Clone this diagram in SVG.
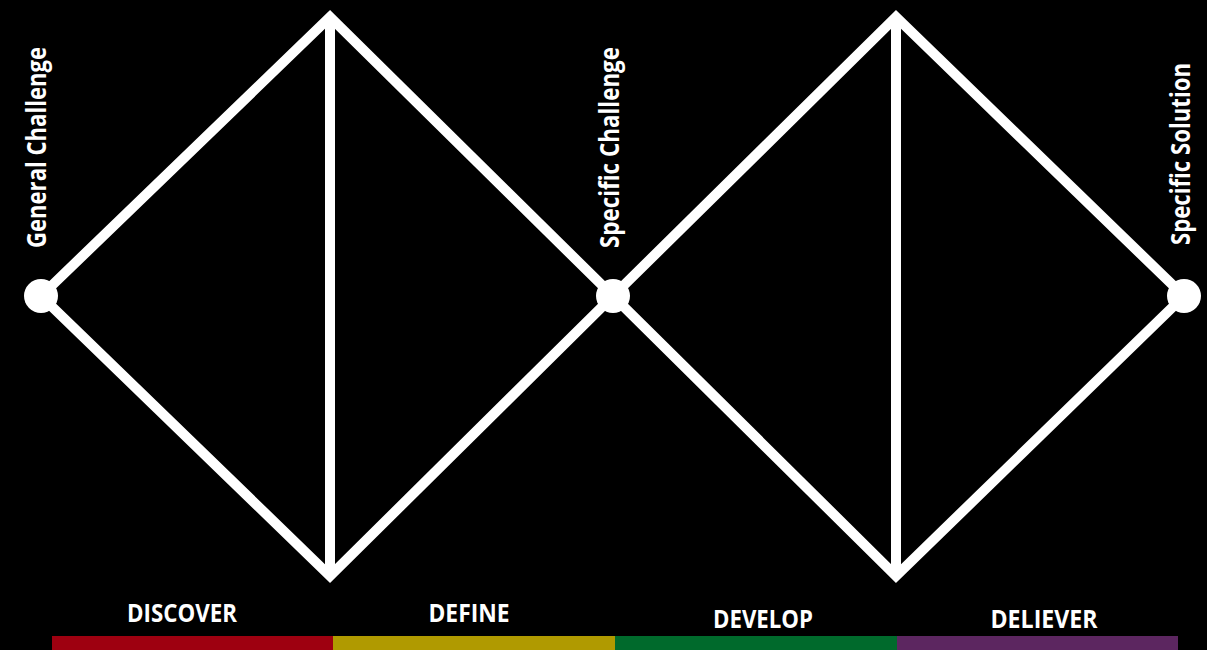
<svg xmlns="http://www.w3.org/2000/svg" width="1207" height="650" viewBox="0 0 1207 650">
<style>
.edge{fill:none;stroke:#fff;stroke-width:10;stroke-linejoin:miter;stroke-miterlimit:10}
.dot{fill:#fff}
.vt{font-family:"Open Sans","Noto Sans",sans-serif;font-weight:bold;font-size:26px;fill:#fff}
.bt{font-family:"Open Sans","Noto Sans",sans-serif;font-weight:bold;font-size:25px;fill:#fff;text-anchor:middle}
</style>
<rect x="0" y="0" width="1207" height="650" fill="#000"/>
<g id="connectors">
<path class="edge" d="M41,296 L330,17 L613,296 L330,576 Z"/>
<path class="edge" d="M330,17 L330,576"/>
<path class="edge" d="M613,296 L896,17 L1184,296 L896,576 Z"/>
<path class="edge" d="M896,17 L896,576"/>
</g>
<g id="general-challenge">
<circle class="dot" cx="41" cy="296" r="17"/>
<text class="vt" transform="translate(46,248) rotate(-90)" textLength="201" lengthAdjust="spacingAndGlyphs">General Challenge</text>
</g>
<g id="specific-challenge">
<circle class="dot" cx="613" cy="296" r="17"/>
<text class="vt" transform="translate(619,248) rotate(-90)" textLength="201" lengthAdjust="spacingAndGlyphs">Specific Challenge</text>
</g>
<g id="specific-solution">
<circle class="dot" cx="1184" cy="296" r="17"/>
<text class="vt" transform="translate(1190,245) rotate(-90)" textLength="182" lengthAdjust="spacingAndGlyphs">Specific Solution</text>
</g>
<g id="discover">
<rect x="52" y="636" width="281" height="14" fill="#9e0010"/>
<text class="bt" x="182" y="622" textLength="110" lengthAdjust="spacingAndGlyphs">DISCOVER</text>
</g>
<g id="define">
<rect x="333" y="636" width="282" height="14" fill="#b09a00"/>
<text class="bt" x="469" y="622" textLength="81" lengthAdjust="spacingAndGlyphs">DEFINE</text>
</g>
<g id="develop">
<rect x="615" y="636" width="282" height="14" fill="#006a2c"/>
<text class="bt" x="763" y="628" font-size="23" textLength="100" lengthAdjust="spacingAndGlyphs">DEVELOP</text>
</g>
<g id="deliever">
<rect x="897" y="636" width="281" height="14" fill="#5c2660"/>
<text class="bt" x="1044" y="628" textLength="107" lengthAdjust="spacingAndGlyphs">DELIEVER</text>
</g>
</svg>
